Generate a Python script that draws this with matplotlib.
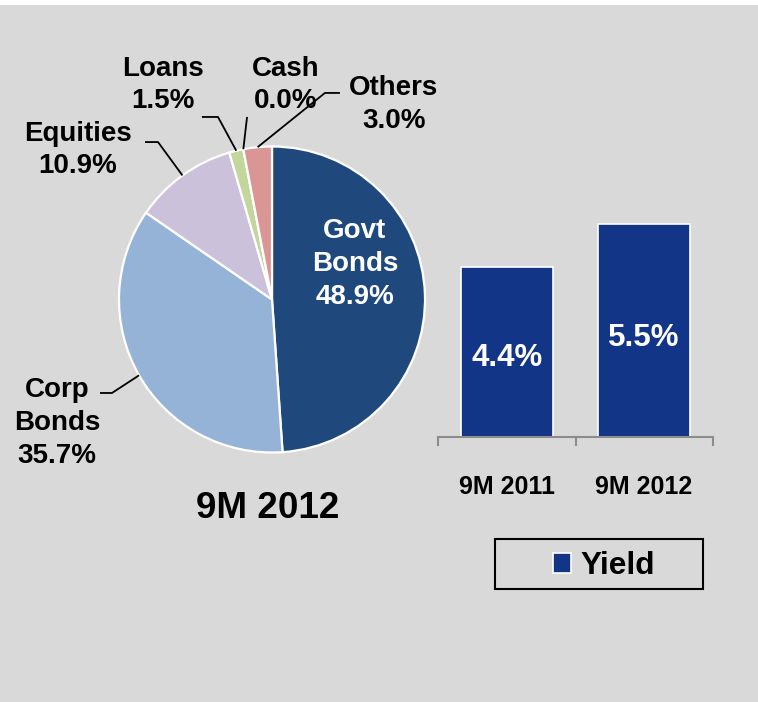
import matplotlib
matplotlib.use("Agg")
import matplotlib.pyplot as plt
from matplotlib.patches import Rectangle
import numpy as np

# Asset allocation, 9M 2012
categories = ["Govt\nBonds", "Corp\nBonds", "Equities", "Loans", "Cash", "Others"]
shares = [48.9, 35.7, 10.9, 1.5, 0.0, 3.0]
slice_colors = ["#1F497D", "#95B3D7", "#CCC1DA", "#C3D69B", "#B9CDE5", "#D99694"]
pie_title = "9M 2012"

# Yield comparison
periods = ["9M 2011", "9M 2012"]
yields = [4.4, 5.5]
series_name = "Yield"

BG = "#D9D9D9"
FONT = "Liberation Sans"
W, H = 758, 702

fig = plt.figure(figsize=(W / 100, H / 100), dpi=100, facecolor=BG)
fig.add_artist(Rectangle((0, (H - 5) / H), 1, 5 / H, transform=fig.transFigure,
                         facecolor="white", edgecolor="none", zorder=0))

# ---------------- pie ----------------
S = 153.0          # pixels per data unit
cx, cy = 272.0, 299.5
px0, px1, py0, py1 = 0, 440, 30, 560
ax = fig.add_axes([px0 / W, (H - py1) / H, (px1 - px0) / W, (py1 - py0) / H])
ax.set_facecolor("none")
wedges, _ = ax.pie(shares, colors=slice_colors, startangle=90, counterclock=False,
                   radius=1.0, wedgeprops=dict(edgecolor="white", linewidth=1.6))
ax.set_aspect("auto")
ax.set_xlim((px0 - cx) / S, (px1 - cx) / S)
ax.set_ylim((cy - py1) / S, (cy - py0) / S)
ax.axis("off")

def pct(v):
    return f"{v:.1f}%"

text_kw = dict(fontfamily=FONT, fontweight="bold", fontsize=20, ha="center",
               va="center", linespacing=1.33)

# label centres and leader-line elbows (data units, pie radius = 1)
label_pos = {
    "Govt\nBonds": (0.542, 0.232),
    "Corp\nBonds": (-1.405, -0.807),
    "Equities": (-1.268, 0.977),
    "Loans": (-0.712, 1.402),
    "Cash": (0.092, 1.402),
    "Others": (0.797, 1.275),
}
leaders = {
    "Corp\nBonds": [(-1.046, -0.611), (-1.124, -0.611)],
    "Equities": [(-0.745, 1.029), (-0.830, 1.029)],
    "Loans": [(-0.353, 1.193), (-0.458, 1.193)],
    "Cash": [(-0.163, 1.193)],
    "Others": [(0.346, 1.350), (0.444, 1.350)],
}

for w, name, val in zip(wedges, categories, shares):
    x, y = label_pos[name]
    color = "white" if name.startswith("Govt") else "black"
    ax.text(x, y, f"{name}\n{pct(val)}", color=color, **text_kw)
    if name in leaders:
        mid = np.deg2rad((w.theta1 + w.theta2) / 2)
        pts = [(np.cos(mid), np.sin(mid))] + leaders[name]
        xs, ys = zip(*pts)
        ax.plot(xs, ys, color="black", lw=1.3, solid_capstyle="butt")

ax.text(-0.026, -1.368, pie_title, fontfamily=FONT, fontweight="bold",
        fontsize=26.5, ha="center", va="center")

# ---------------- bars ----------------
bx0, bx1, base_y = 438.3, 712.7, 437.3
ppu = 38.8
ymax = 6.0
bax = fig.add_axes([bx0 / W, (H - base_y) / H, (bx1 - bx0) / W, ymax * ppu / H])
bax.set_facecolor("none")
xpos = np.arange(len(periods))
bars = bax.bar(xpos, yields, width=0.67, color="#133587", edgecolor="white",
               linewidth=1.2, label=series_name)
bax.set_xlim(-0.5, len(periods) - 0.5)
bax.set_ylim(0, ymax)
for s in ["top", "right", "left"]:
    bax.spines[s].set_visible(False)
bax.spines["bottom"].set_color("#8C8C8C")
bax.spines["bottom"].set_linewidth(1.5)
bax.set_yticks([])
bax.set_xticks(xpos)
bax.set_xticklabels(periods, fontfamily=FONT, fontweight="bold", fontsize=18)
bax.tick_params(axis="x", which="major", length=0, pad=27)
bax.set_xticks(np.arange(-0.5, len(periods), 1.0), minor=True)
bax.tick_params(axis="x", which="minor", length=6.5, width=1.5,
                color="#8C8C8C", direction="out")
for xi, v in zip(xpos, yields):
    bax.text(xi, v * 0.466, pct(v), color="white", fontfamily=FONT,
             fontweight="bold", fontsize=22.5, ha="center", va="center")

# ---------------- legend ----------------
fig.add_artist(Rectangle((495 / W, (H - 589) / H), 208 / W, 50 / H,
                         transform=fig.transFigure, fill=False,
                         edgecolor="black", linewidth=1.5))
fig.legend(handles=[bars], labels=[series_name], loc="center",
           bbox_to_anchor=(604 / W, (H - 566) / H), frameon=False,
           prop=dict(family=FONT, weight="bold", size=22.7),
           handlelength=0.57, handleheight=0.57, handletextpad=0.29,
           borderpad=0, borderaxespad=0)

fig.savefig("out.png", dpi=100, facecolor=BG)
